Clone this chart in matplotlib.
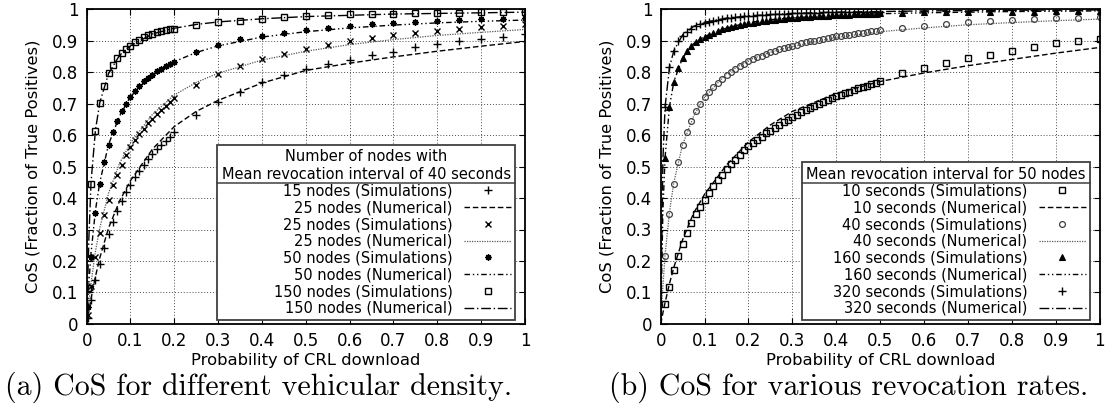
import matplotlib
matplotlib.use("Agg")
import matplotlib.pyplot as plt
from matplotlib.lines import Line2D

plt.rcParams['font.family'] = ['DejaVu Sans']

# x values of the simulation runs
sim_p_a = [0.002, 0.01, 0.02, 0.03, 0.04, 0.05, 0.06, 0.07, 0.08, 0.09, 0.10,
           0.11, 0.12, 0.13, 0.14, 0.15, 0.16, 0.17, 0.18, 0.19, 0.20,
           0.25, 0.30, 0.35, 0.40, 0.45, 0.50, 0.55, 0.60, 0.65, 0.70,
           0.75, 0.80, 0.85, 0.90, 0.95, 1.0]
sim_p_b = [0.01, 0.02, 0.03, 0.04, 0.05, 0.06, 0.07, 0.08, 0.09, 0.10,
           0.11, 0.12, 0.13, 0.14, 0.15, 0.16, 0.17, 0.18, 0.19, 0.20,
           0.21, 0.22, 0.23, 0.24, 0.25, 0.26, 0.27, 0.28, 0.29, 0.30,
           0.31, 0.32, 0.33, 0.34, 0.35, 0.36, 0.37, 0.38, 0.39, 0.40,
           0.41, 0.42, 0.43, 0.44, 0.45, 0.46, 0.47, 0.48, 0.49, 0.50,
           0.55, 0.60, 0.65, 0.70, 0.75, 0.80, 0.85, 0.90, 0.95, 1.0]
# x values of the numerical curves
num_p = [0, 0.005, 0.01, 0.02, 0.03, 0.05, 0.075, 0.1, 0.15, 0.2, 0.25, 0.3,
         0.4, 0.5, 0.6, 0.7, 0.8, 0.9, 1.0]

# (a) vehicular density
sim15 = [0.018, 0.075, 0.14, 0.19, 0.24, 0.285, 0.325, 0.36, 0.392, 0.418, 0.442,
         0.466, 0.487, 0.506, 0.523, 0.539, 0.554, 0.568, 0.581, 0.594, 0.61,
         0.663, 0.706, 0.738, 0.767, 0.789, 0.808, 0.825, 0.839, 0.855, 0.865,
         0.878, 0.889, 0.897, 0.905, 0.912, 0.92]
sim25 = [0.03, 0.12, 0.214, 0.289, 0.347, 0.394, 0.44, 0.474, 0.505, 0.537, 0.562,
         0.584, 0.602, 0.62, 0.637, 0.652, 0.666, 0.679, 0.693, 0.705, 0.717,
         0.759, 0.793, 0.82, 0.841, 0.857, 0.873, 0.886, 0.897, 0.908, 0.918,
         0.923, 0.93, 0.936, 0.944, 0.947, 0.953]
sim50 = [0.055, 0.214, 0.352, 0.445, 0.514, 0.567, 0.609, 0.646, 0.675, 0.70, 0.722,
         0.741, 0.757, 0.77, 0.78, 0.791, 0.802, 0.81, 0.818, 0.825, 0.832,
         0.865, 0.886, 0.904, 0.915, 0.925, 0.934, 0.939, 0.947, 0.953, 0.957,
         0.96, 0.963, 0.966, 0.968, 0.969, 0.972]
sim150 = [0.115, 0.445, 0.614, 0.703, 0.756, 0.796, 0.823, 0.844, 0.86, 0.873, 0.883,
          0.894, 0.902, 0.91, 0.917, 0.921, 0.927, 0.931, 0.934, 0.936, 0.938,
          0.95, 0.958, 0.963, 0.969, 0.974, 0.978, 0.981, 0.983, 0.984, 0.985,
          0.986, 0.988, 0.988, 0.989, 0.99, 0.991]
num15 = [0, 0.04, 0.08, 0.15, 0.21, 0.305, 0.39, 0.455, 0.555, 0.627, 0.675, 0.71,
         0.765, 0.805, 0.828, 0.848, 0.866, 0.882, 0.897]
num25 = [0, 0.07, 0.13, 0.23, 0.305, 0.415, 0.51, 0.575, 0.665, 0.727, 0.767, 0.796,
         0.838, 0.866, 0.887, 0.903, 0.916, 0.926, 0.935]
num50 = [0, 0.13, 0.225, 0.36, 0.45, 0.57, 0.66, 0.722, 0.792, 0.833, 0.862, 0.883,
         0.911, 0.928, 0.94, 0.949, 0.956, 0.961, 0.965]
num150 = [0, 0.27, 0.45, 0.615, 0.703, 0.795, 0.853, 0.883, 0.921, 0.939, 0.951, 0.959,
          0.969, 0.976, 0.98, 0.984, 0.986, 0.988, 0.99]
labels_a = ["15 nodes (Simulations)", "25 nodes (Numerical)",
            "25 nodes (Simulations)", "25 nodes (Numerical)",
            "50 nodes (Simulations)", "50 nodes (Numerical)",
            "150 nodes (Simulations)", "150 nodes (Numerical)"]
title_a = "Number of nodes with\nMean revocation interval of 40 seconds"

# (b) revocation rates
sim10 = [0.064, 0.119, 0.17, 0.215, 0.255, 0.29, 0.32, 0.348, 0.372, 0.394,
         0.416, 0.437, 0.456, 0.474, 0.491, 0.507, 0.522, 0.537, 0.551, 0.564,
         0.575, 0.585, 0.595, 0.605, 0.614, 0.623, 0.632, 0.641, 0.649, 0.657,
         0.665, 0.672, 0.679, 0.686, 0.693, 0.699, 0.705, 0.711, 0.717, 0.723,
         0.728, 0.733, 0.738, 0.743, 0.748, 0.753, 0.757, 0.762, 0.766, 0.77,
         0.796, 0.814, 0.83, 0.843, 0.855, 0.867, 0.878, 0.892, 0.897, 0.904]
sim40 = [0.215, 0.35, 0.445, 0.513, 0.569, 0.611, 0.643, 0.675, 0.698, 0.72,
         0.737, 0.752, 0.766, 0.778, 0.79, 0.8, 0.81, 0.819, 0.827, 0.835,
         0.841, 0.847, 0.852, 0.857, 0.862, 0.867, 0.872, 0.876, 0.88, 0.884,
         0.887, 0.891, 0.894, 0.897, 0.9, 0.903, 0.906, 0.908, 0.911, 0.913,
         0.915, 0.917, 0.919, 0.921, 0.923, 0.925, 0.927, 0.929, 0.931, 0.933,
         0.939, 0.947, 0.952, 0.958, 0.962, 0.966, 0.968, 0.971, 0.973, 0.976]
sim160 = [0.527, 0.689, 0.768, 0.813, 0.845, 0.866, 0.881, 0.894, 0.904, 0.912,
          0.919, 0.925, 0.93, 0.935, 0.939, 0.943, 0.946, 0.949, 0.952, 0.955,
          0.957, 0.959, 0.961, 0.963, 0.965, 0.966, 0.968, 0.969, 0.97, 0.972,
          0.973, 0.974, 0.975, 0.976, 0.977, 0.977, 0.978, 0.979, 0.98, 0.98,
          0.981, 0.982, 0.982, 0.983, 0.983, 0.984, 0.984, 0.985, 0.985, 0.986,
          0.988, 0.989, 0.99, 0.991, 0.991, 0.992, 0.992, 0.993, 0.993, 0.994]
sim320 = [0.69, 0.815, 0.868, 0.897, 0.915, 0.928, 0.938, 0.945, 0.951, 0.956,
          0.96, 0.963, 0.966, 0.968, 0.97, 0.972, 0.974, 0.975, 0.977, 0.978,
          0.979, 0.98, 0.981, 0.982, 0.983, 0.983, 0.984, 0.985, 0.985, 0.986,
          0.986, 0.987, 0.987, 0.988, 0.988, 0.988, 0.989, 0.989, 0.989, 0.99,
          0.99, 0.99, 0.991, 0.991, 0.991, 0.991, 0.992, 0.992, 0.992, 0.992,
          0.993, 0.994, 0.994, 0.995, 0.995, 0.996, 0.996, 0.996, 0.997, 0.997]
num10 = [0, 0.035, 0.068, 0.128, 0.18, 0.268, 0.352, 0.412, 0.505, 0.578, 0.632, 0.675,
         0.732, 0.77, 0.797, 0.82, 0.84, 0.86, 0.878]
num40 = [0, 0.12, 0.22, 0.355, 0.45, 0.57, 0.66, 0.72, 0.795, 0.838, 0.863, 0.881,
         0.91, 0.928, 0.94, 0.95, 0.957, 0.963, 0.968]
num160 = [0, 0.36, 0.53, 0.69, 0.77, 0.845, 0.89, 0.913, 0.94, 0.957, 0.966, 0.972,
          0.98, 0.985, 0.988, 0.99, 0.992, 0.993, 0.994]
num320 = [0, 0.52, 0.69, 0.815, 0.868, 0.918, 0.945, 0.958, 0.971, 0.978, 0.982, 0.986,
          0.99, 0.992, 0.994, 0.995, 0.996, 0.997, 0.997]
labels_b = ["10 seconds (Simulations)", "10 seconds (Numerical)",
            "40 seconds (Simulations)", "40 seconds (Numerical)",
            "160 seconds (Simulations)", "160 seconds (Numerical)",
            "320 seconds (Simulations)", "320 seconds (Numerical)"]
title_b = "Mean revocation interval for 50 nodes"

ticks = [0, 0.1, 0.2, 0.3, 0.4, 0.5, 0.6, 0.7, 0.8, 0.9, 1]
tick_labels = ["0", "0.1", "0.2", "0.3", "0.4", "0.5", "0.6", "0.7", "0.8", "0.9", "1"]

# gnuplot-like line styles for the numerical curves
styles = [dict(ls=(0, (4, 2)), lw=1.0, color="black"),
          dict(ls=(0, (1, 1)), lw=0.9, color="0.35"),
          dict(ls=(0, (4, 2, 1, 2, 1, 2)), lw=1.0, color="black"),
          dict(ls=(0, (7, 2, 1, 2)), lw=1.0, color="black")]
marks_a = [dict(marker="+", ms=6, mew=1.0),
           dict(marker="x", ms=4.5, mew=1.0),
           dict(marker=(8, 2, 0), ms=4.5, mew=1.0),
           dict(marker="s", ms=4.5, mew=1.0, mfc="none")]
marks_b = [dict(marker="s", ms=4.5, mew=1.0, mfc="none"),
           dict(marker="o", ms=4.2, mew=0.9, mfc="none", color="0.25"),
           dict(marker="^", ms=4.0, mew=0.8),
           dict(marker="+", ms=5.5, mew=1.0)]

fig = plt.figure(figsize=(11.08, 4.08), dpi=100)
ax_a = fig.add_axes([0.0782, 0.2059, 0.3956, 0.772])
ax_b = fig.add_axes([0.5963, 0.2059, 0.3962, 0.772])


def draw_panel(ax, sim_p, sims, nums, marks, labels):
    for k in range(4):
        kw = dict(color="black")
        kw.update(marks[k])
        ax.plot(sim_p, sims[k], ls="none", label=labels[2 * k], **kw)
        ax.plot(num_p, nums[k], label=labels[2 * k + 1], **styles[k])
    ax.set_xlim(0, 1)
    ax.set_ylim(0, 1)
    ax.set_xticks(ticks)
    ax.set_xticklabels(tick_labels)
    ax.set_yticks(ticks)
    ax.set_yticklabels(tick_labels)
    ax.tick_params(direction="in", top=True, right=True, length=4, width=0.8,
                   labelsize=12, pad=6)
    ax.grid(True, color="0.3", ls=(0, (1, 2)), lw=0.7)
    for s in ax.spines.values():
        s.set_linewidth(1.3)
    ax.set_xlabel("Probability of CRL download", fontsize=11.8, labelpad=2)
    ax.set_ylabel("CoS (Fraction of True Positives)", fontsize=11.8, labelpad=8)


def gnuplot_legend(ax, title):
    leg = ax.legend(title=title, loc="lower right", bbox_to_anchor=(0.978, 0.012),
                    markerfirst=False, fontsize=10.5, title_fontsize=10.5,
                    handlelength=3.2, handletextpad=0.8, labelspacing=0.12,
                    borderpad=0.3, borderaxespad=0, fancybox=False,
                    framealpha=1, edgecolor="0.25", alignment="right")
    leg.get_frame().set_linewidth(1.3)
    leg.get_title().set_multialignment("center")
    return leg


draw_panel(ax_a, sim_p_a, [sim15, sim25, sim50, sim150],
           [num15, num25, num50, num150], marks_a, labels_a)
draw_panel(ax_b, sim_p_b, [sim10, sim40, sim160, sim320],
           [num10, num40, num160, num320], marks_b, labels_b)
leg_a = gnuplot_legend(ax_a, title_a)
leg_b = gnuplot_legend(ax_b, title_b)

fig.text(0.233, 0.05, "(a) CoS for different vehicular density.",
         family="cmr10", fontsize=21.5, ha="center", va="center")
fig.text(0.766, 0.05, "(b) CoS for various revocation rates.",
         family="cmr10", fontsize=21.5, ha="center", va="center")

# separator line under the legend title, as gnuplot draws it
fig.canvas.draw()
renderer = fig.canvas.get_renderer()
inv = fig.transFigure.inverted()
for leg in (leg_a, leg_b):
    frame = leg.get_frame().get_window_extent(renderer)
    tb = leg._legend_title_box.get_window_extent(renderer)
    (x0, y0), (x1, _) = inv.transform([(frame.x0, tb.y0 - 1), (frame.x1, tb.y0 - 1)])
    fig.add_artist(Line2D([x0, x1], [y0, y0], color="0.25", lw=1.1, zorder=10))

fig.savefig("out.png", dpi=100)
